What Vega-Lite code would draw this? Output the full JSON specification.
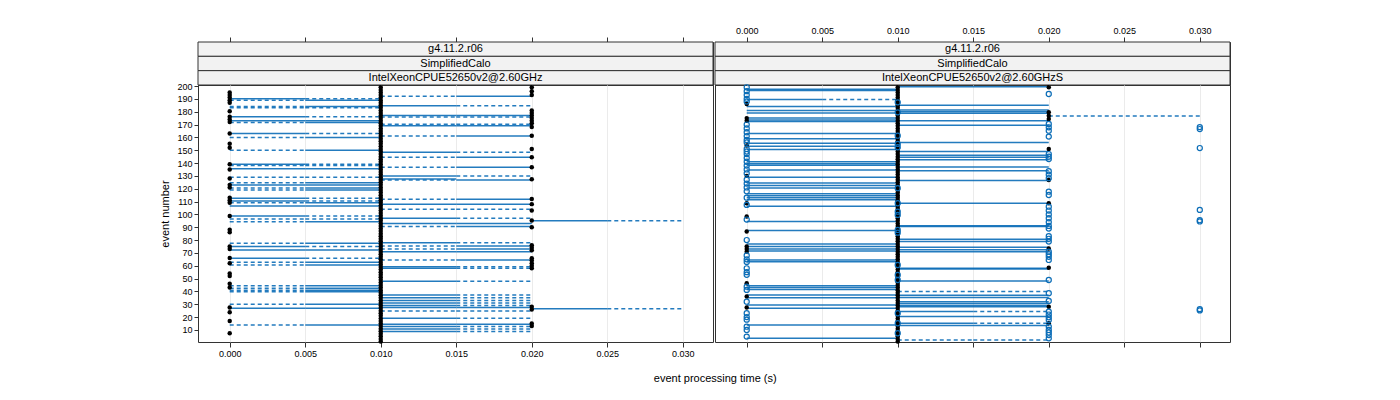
{
"$schema":"https://vega.github.io/schema/vega-lite/v6.json",
"padding":{"left":159,"top":25,"right":5,"bottom":5},
"background":"white",
"title":{"text":"event processing time (s)","orient":"bottom","anchor":"middle","fontSize":11,"fontWeight":"normal","font":"Liberation Sans","color":"#000","dx":20,"offset":14},
"datasets":{
"segs":[
{"p":"L","r":"r1","y":190,"x":0,"x2":0.005},{"p":"L","r":"r2","y":190,"x":0.005,"x2":0.01},
{"p":"L","r":"r2","y":189,"x":0,"x2":0.005},{"p":"L","r":"r1","y":189,"x":0.005,"x2":0.01},
{"p":"L","r":"r2","y":192,"x":0.01,"x2":0.015},{"p":"L","r":"r1","y":192,"x":0.015,"x2":0.02},
{"p":"L","r":"r2","y":184,"x":0,"x2":0.005},{"p":"L","r":"r1","y":184,"x":0.005,"x2":0.01},
{"p":"L","r":"r2","y":183,"x":0,"x2":0.005},{"p":"L","r":"r2","y":183,"x":0.005,"x2":0.01},
{"p":"L","r":"r1","y":184.6,"x":0.01,"x2":0.015},{"p":"L","r":"r2","y":184.6,"x":0.015,"x2":0.02},
{"p":"L","r":"r1","y":176,"x":0,"x2":0.005},{"p":"L","r":"r2","y":176,"x":0.005,"x2":0.01},
{"p":"L","r":"r1","y":173,"x":0,"x2":0.005},{"p":"L","r":"r1","y":173,"x":0.005,"x2":0.01},
{"p":"L","r":"r2","y":171.5,"x":0,"x2":0.005},{"p":"L","r":"r1","y":171.5,"x":0.005,"x2":0.01},
{"p":"L","r":"r1","y":177,"x":0.01,"x2":0.015},{"p":"L","r":"r1","y":177,"x":0.015,"x2":0.02},
{"p":"L","r":"r2","y":175.8,"x":0.01,"x2":0.015},{"p":"L","r":"r2","y":175.8,"x":0.015,"x2":0.02},
{"p":"L","r":"r1","y":169,"x":0.01,"x2":0.015},{"p":"L","r":"r1","y":169,"x":0.015,"x2":0.02},
{"p":"L","r":"r2","y":170.2,"x":0.01,"x2":0.015},{"p":"L","r":"r2","y":170.2,"x":0.015,"x2":0.02},
{"p":"L","r":"r1","y":163,"x":0,"x2":0.005},{"p":"L","r":"r2","y":163,"x":0.005,"x2":0.01},
{"p":"L","r":"r2","y":160,"x":0,"x2":0.005},{"p":"L","r":"r1","y":160,"x":0.005,"x2":0.01},
{"p":"L","r":"r2","y":161,"x":0.01,"x2":0.015},{"p":"L","r":"r1","y":161,"x":0.015,"x2":0.02},
{"p":"L","r":"r2","y":150,"x":0,"x2":0.005},{"p":"L","r":"r1","y":150,"x":0.005,"x2":0.01},
{"p":"L","r":"r1","y":148.5,"x":0.01,"x2":0.015},{"p":"L","r":"r2","y":148.5,"x":0.015,"x2":0.02},
{"p":"L","r":"r2","y":144.5,"x":0.01,"x2":0.015},{"p":"L","r":"r1","y":144.5,"x":0.015,"x2":0.02},
{"p":"L","r":"r1","y":139,"x":0,"x2":0.005},{"p":"L","r":"r2","y":139,"x":0.005,"x2":0.01},
{"p":"L","r":"r2","y":138,"x":0,"x2":0.005},{"p":"L","r":"r2","y":138,"x":0.005,"x2":0.01},
{"p":"L","r":"r1","y":135.5,"x":0,"x2":0.005},{"p":"L","r":"r1","y":135.5,"x":0.005,"x2":0.01},
{"p":"L","r":"r2","y":136.7,"x":0.01,"x2":0.015},{"p":"L","r":"r1","y":136.7,"x":0.015,"x2":0.02},
{"p":"L","r":"r1","y":130,"x":0.01,"x2":0.015},{"p":"L","r":"r2","y":130,"x":0.015,"x2":0.02},
{"p":"L","r":"r1","y":127.5,"x":0.01,"x2":0.015},
{"p":"L","r":"r2","y":126.8,"x":0.01,"x2":0.015},{"p":"L","r":"r1","y":126.8,"x":0.015,"x2":0.02},
{"p":"L","r":"r2","y":128.9,"x":0,"x2":0.005},{"p":"L","r":"r2","y":128.9,"x":0.005,"x2":0.01},
{"p":"L","r":"r2","y":124.7,"x":0,"x2":0.005},{"p":"L","r":"r1","y":124.7,"x":0.005,"x2":0.01},
{"p":"L","r":"r1","y":122.9,"x":0,"x2":0.005},{"p":"L","r":"r1","y":122.9,"x":0.005,"x2":0.01},
{"p":"L","r":"r2","y":120.5,"x":0,"x2":0.005},{"p":"L","r":"r1","y":120.5,"x":0.005,"x2":0.01},
{"p":"L","r":"r2","y":119,"x":0,"x2":0.005},{"p":"L","r":"r1","y":119,"x":0.005,"x2":0.01},
{"p":"L","r":"r2","y":111.8,"x":0.01,"x2":0.015},{"p":"L","r":"r1","y":111.8,"x":0.015,"x2":0.02},
{"p":"L","r":"r1","y":112.5,"x":0,"x2":0.005},{"p":"L","r":"r2","y":112.5,"x":0.005,"x2":0.01},
{"p":"L","r":"r1","y":110.5,"x":0,"x2":0.005},{"p":"L","r":"r2","y":110.5,"x":0.005,"x2":0.01},
{"p":"L","r":"r2","y":109,"x":0,"x2":0.005},{"p":"L","r":"r1","y":109,"x":0.005,"x2":0.01},
{"p":"L","r":"r1","y":108,"x":0.01,"x2":0.015},{"p":"L","r":"r1","y":108,"x":0.015,"x2":0.02},
{"p":"L","r":"r1","y":106.6,"x":0,"x2":0.005},{"p":"L","r":"r1","y":106.6,"x":0.005,"x2":0.01},
{"p":"L","r":"r2","y":104,"x":0.01,"x2":0.015},{"p":"L","r":"r2","y":104,"x":0.015,"x2":0.02},
{"p":"L","r":"r1","y":98.8,"x":0,"x2":0.005},{"p":"L","r":"r2","y":98.8,"x":0.005,"x2":0.01},
{"p":"L","r":"r2","y":96.4,"x":0,"x2":0.005},{"p":"L","r":"r2","y":96.4,"x":0.005,"x2":0.01},
{"p":"L","r":"r2","y":94.3,"x":0,"x2":0.005},{"p":"L","r":"r1","y":94.3,"x":0.005,"x2":0.01},
{"p":"L","r":"r1","y":97,"x":0.01,"x2":0.015},{"p":"L","r":"r2","y":97,"x":0.015,"x2":0.02},
{"p":"L","r":"r1","y":95,"x":0.02,"x2":0.025},{"p":"L","r":"r2","y":95,"x":0.025,"x2":0.03},
{"p":"L","r":"r1","y":93,"x":0.01,"x2":0.015},{"p":"L","r":"r1","y":93,"x":0.015,"x2":0.02},
{"p":"L","r":"r2","y":90.5,"x":0.01,"x2":0.015},{"p":"L","r":"r1","y":90.5,"x":0.015,"x2":0.02},
{"p":"L","r":"r2","y":77.5,"x":0,"x2":0.005},{"p":"L","r":"r1","y":77.5,"x":0.005,"x2":0.01},
{"p":"L","r":"r1","y":75,"x":0,"x2":0.005},{"p":"L","r":"r2","y":75,"x":0.005,"x2":0.01},
{"p":"L","r":"r1","y":72.3,"x":0,"x2":0.005},{"p":"L","r":"r1","y":72.3,"x":0.005,"x2":0.01},
{"p":"L","r":"r1","y":78,"x":0.01,"x2":0.015},{"p":"L","r":"r2","y":78,"x":0.015,"x2":0.02},
{"p":"L","r":"r2","y":75.4,"x":0.01,"x2":0.015},{"p":"L","r":"r1","y":75.4,"x":0.015,"x2":0.02},
{"p":"L","r":"r2","y":73,"x":0.01,"x2":0.015},{"p":"L","r":"r1","y":73,"x":0.015,"x2":0.02},
{"p":"L","r":"r1","y":71,"x":0.01,"x2":0.015},{"p":"L","r":"r1","y":71,"x":0.015,"x2":0.02},
{"p":"L","r":"r1","y":65.8,"x":0,"x2":0.005},{"p":"L","r":"r2","y":65.8,"x":0.005,"x2":0.01},
{"p":"L","r":"r2","y":64.5,"x":0.01,"x2":0.015},{"p":"L","r":"r1","y":64.5,"x":0.015,"x2":0.02},
{"p":"L","r":"r2","y":62.7,"x":0,"x2":0.005},{"p":"L","r":"r1","y":62.7,"x":0.005,"x2":0.01},
{"p":"L","r":"r2","y":60.5,"x":0,"x2":0.005},{"p":"L","r":"r1","y":60.5,"x":0.005,"x2":0.01},
{"p":"L","r":"r1","y":59.3,"x":0.01,"x2":0.015},{"p":"L","r":"r2","y":59.3,"x":0.015,"x2":0.02},
{"p":"L","r":"r1","y":58,"x":0.01,"x2":0.015},{"p":"L","r":"r2","y":58,"x":0.015,"x2":0.02},
{"p":"L","r":"r1","y":48,"x":0.01,"x2":0.015},{"p":"L","r":"r2","y":48,"x":0.015,"x2":0.02},
{"p":"L","r":"r2","y":44.5,"x":0,"x2":0.005},{"p":"L","r":"r1","y":44.5,"x":0.005,"x2":0.01},
{"p":"L","r":"r2","y":42.5,"x":0,"x2":0.005},{"p":"L","r":"r1","y":42.5,"x":0.005,"x2":0.01},
{"p":"L","r":"r2","y":41,"x":0,"x2":0.005},{"p":"L","r":"r1","y":41,"x":0.005,"x2":0.01},
{"p":"L","r":"r2","y":39.8,"x":0,"x2":0.005},{"p":"L","r":"r1","y":39.8,"x":0.005,"x2":0.01},
{"p":"L","r":"r1","y":37.3,"x":0.01,"x2":0.015},{"p":"L","r":"r2","y":37.3,"x":0.015,"x2":0.02},
{"p":"L","r":"r1","y":35,"x":0.01,"x2":0.015},{"p":"L","r":"r2","y":35,"x":0.015,"x2":0.02},
{"p":"L","r":"r1","y":33,"x":0.01,"x2":0.015},{"p":"L","r":"r2","y":33,"x":0.015,"x2":0.02},
{"p":"L","r":"r1","y":31,"x":0.01,"x2":0.015},{"p":"L","r":"r2","y":31,"x":0.015,"x2":0.02},
{"p":"L","r":"r1","y":29,"x":0.01,"x2":0.015},{"p":"L","r":"r2","y":29,"x":0.015,"x2":0.02},
{"p":"L","r":"r2","y":30,"x":0,"x2":0.005},{"p":"L","r":"r1","y":30,"x":0.005,"x2":0.01},
{"p":"L","r":"r1","y":26.9,"x":0,"x2":0.005},{"p":"L","r":"r1","y":26.9,"x":0.005,"x2":0.01},
{"p":"L","r":"r1","y":26.5,"x":0.02,"x2":0.025},{"p":"L","r":"r2","y":26.5,"x":0.025,"x2":0.03},
{"p":"L","r":"r1","y":27.5,"x":0.01,"x2":0.015},{"p":"L","r":"r1","y":27.5,"x":0.015,"x2":0.02},
{"p":"L","r":"r2","y":24.8,"x":0.01,"x2":0.015},{"p":"L","r":"r2","y":24.8,"x":0.015,"x2":0.02},
{"p":"L","r":"r1","y":19.1,"x":0.01,"x2":0.015},{"p":"L","r":"r2","y":19.1,"x":0.015,"x2":0.02},
{"p":"L","r":"r2","y":13.9,"x":0,"x2":0.005},{"p":"L","r":"r1","y":13.9,"x":0.005,"x2":0.01},
{"p":"L","r":"r1","y":14.4,"x":0.01,"x2":0.015},{"p":"L","r":"r1","y":14.4,"x":0.015,"x2":0.02},
{"p":"L","r":"r1","y":12.6,"x":0.01,"x2":0.015},{"p":"L","r":"r2","y":12.6,"x":0.015,"x2":0.02},
{"p":"L","r":"r1","y":10.8,"x":0.01,"x2":0.015},{"p":"L","r":"r2","y":10.8,"x":0.015,"x2":0.02},
{"p":"L","r":"r1","y":8.7,"x":0.01,"x2":0.015},{"p":"L","r":"r2","y":8.7,"x":0.015,"x2":0.02},
{"p":"R","r":"r1","y":199.5,"x":0.01,"x2":0.02},{"p":"R","r":"r1","y":197.5,"x":0,"x2":0.01},{"p":"R","r":"r1","y":196.5,"x":0,"x2":0.01},
{"p":"R","r":"r1","y":189.5,"x":0,"x2":0.005},{"p":"R","r":"r2","y":189.5,"x":0.005,"x2":0.01},
{"p":"R","r":"r1","y":185,"x":0.01,"x2":0.02},
{"p":"R","r":"r1","y":184,"x":0,"x2":0.01},{"p":"R","r":"r1","y":181,"x":0,"x2":0.01},{"p":"R","r":"r1","y":179,"x":0,"x2":0.01},
{"p":"R","r":"r1","y":181.3,"x":0.01,"x2":0.02},{"p":"R","r":"r1","y":180,"x":0.01,"x2":0.02},{"p":"R","r":"r1","y":178.7,"x":0.01,"x2":0.02},
{"p":"R","r":"r2","y":176.7,"x":0.02,"x2":0.03},
{"p":"R","r":"r1","y":175,"x":0,"x2":0.01},{"p":"R","r":"r1","y":173.5,"x":0,"x2":0.01},{"p":"R","r":"r1","y":172.3,"x":0,"x2":0.01},
{"p":"R","r":"r1","y":173,"x":0.01,"x2":0.02},{"p":"R","r":"r1","y":169.5,"x":0.01,"x2":0.02},
{"p":"R","r":"r1","y":163,"x":0,"x2":0.01},{"p":"R","r":"r1","y":159,"x":0,"x2":0.01},{"p":"R","r":"r1","y":155.4,"x":0,"x2":0.01},{"p":"R","r":"r1","y":153,"x":0,"x2":0.01},{"p":"R","r":"r1","y":150.5,"x":0,"x2":0.01},
{"p":"R","r":"r1","y":156,"x":0.01,"x2":0.02},{"p":"R","r":"r1","y":149,"x":0.01,"x2":0.02},{"p":"R","r":"r1","y":146,"x":0.01,"x2":0.02},{"p":"R","r":"r1","y":144.5,"x":0.01,"x2":0.02},{"p":"R","r":"r1","y":142.5,"x":0.01,"x2":0.02},
{"p":"R","r":"r1","y":141,"x":0,"x2":0.01},{"p":"R","r":"r1","y":139.5,"x":0,"x2":0.01},{"p":"R","r":"r1","y":138.2,"x":0,"x2":0.01},
{"p":"R","r":"r1","y":137,"x":0.01,"x2":0.02},{"p":"R","r":"r1","y":134,"x":0.01,"x2":0.02},
{"p":"R","r":"r1","y":134.6,"x":0,"x2":0.01},{"p":"R","r":"r1","y":129,"x":0,"x2":0.01},{"p":"R","r":"r1","y":126.5,"x":0.01,"x2":0.02},
{"p":"R","r":"r1","y":124.5,"x":0,"x2":0.01},{"p":"R","r":"r1","y":122.5,"x":0,"x2":0.01},{"p":"R","r":"r1","y":120.5,"x":0,"x2":0.01},
{"p":"R","r":"r1","y":116,"x":0,"x2":0.01},{"p":"R","r":"r1","y":114.5,"x":0,"x2":0.01},{"p":"R","r":"r1","y":113,"x":0,"x2":0.01},{"p":"R","r":"r1","y":111.5,"x":0,"x2":0.01},
{"p":"R","r":"r1","y":108.7,"x":0.01,"x2":0.02},{"p":"R","r":"r1","y":106.3,"x":0,"x2":0.01},
{"p":"R","r":"r1","y":94.4,"x":0,"x2":0.01},{"p":"R","r":"r1","y":90.5,"x":0.01,"x2":0.02},{"p":"R","r":"r1","y":91.2,"x":0.01,"x2":0.02},
{"p":"R","r":"r1","y":87.4,"x":0,"x2":0.01},
{"p":"R","r":"r1","y":80.6,"x":0.01,"x2":0.02},{"p":"R","r":"r1","y":78.8,"x":0.01,"x2":0.02},
{"p":"R","r":"r1","y":77,"x":0,"x2":0.01},
{"p":"R","r":"r1","y":75,"x":0,"x2":0.01},{"p":"R","r":"r1","y":73,"x":0,"x2":0.01},{"p":"R","r":"r1","y":71.5,"x":0,"x2":0.01},
{"p":"R","r":"r1","y":74.5,"x":0.01,"x2":0.02},{"p":"R","r":"r1","y":72.5,"x":0.01,"x2":0.02},{"p":"R","r":"r1","y":71,"x":0.01,"x2":0.02},
{"p":"R","r":"r1","y":64.5,"x":0,"x2":0.01},{"p":"R","r":"r1","y":63.2,"x":0,"x2":0.01},
{"p":"R","r":"r1","y":58,"x":0.01,"x2":0.02},{"p":"R","r":"r1","y":57.4,"x":0.01,"x2":0.02},
{"p":"R","r":"r1","y":48.2,"x":0.01,"x2":0.02},
{"p":"R","r":"r1","y":44.5,"x":0,"x2":0.01},{"p":"R","r":"r1","y":43,"x":0,"x2":0.01},{"p":"R","r":"r1","y":41.5,"x":0,"x2":0.01},
{"p":"R","r":"r2","y":39.9,"x":0.01,"x2":0.015},{"p":"R","r":"r2","y":39.9,"x":0.015,"x2":0.02},
{"p":"R","r":"r1","y":37.3,"x":0,"x2":0.01},{"p":"R","r":"r1","y":35,"x":0,"x2":0.01},
{"p":"R","r":"r1","y":37,"x":0.01,"x2":0.02},{"p":"R","r":"r1","y":35.2,"x":0.01,"x2":0.02},
{"p":"R","r":"r1","y":32,"x":0.01,"x2":0.02},{"p":"R","r":"r1","y":30.5,"x":0.01,"x2":0.02},{"p":"R","r":"r1","y":29,"x":0.01,"x2":0.02},{"p":"R","r":"r1","y":28,"x":0.01,"x2":0.02},
{"p":"R","r":"r1","y":29.5,"x":0,"x2":0.01},{"p":"R","r":"r1","y":26.9,"x":0,"x2":0.01},
{"p":"R","r":"r1","y":24.3,"x":0.01,"x2":0.015},{"p":"R","r":"r2","y":24.3,"x":0.015,"x2":0.02},
{"p":"R","r":"r1","y":20.4,"x":0.01,"x2":0.02},
{"p":"R","r":"r1","y":15.2,"x":0.01,"x2":0.015},{"p":"R","r":"r2","y":15.2,"x":0.015,"x2":0.02},
{"p":"R","r":"r1","y":13.9,"x":0,"x2":0.01},{"p":"R","r":"r1","y":13.4,"x":0.01,"x2":0.02},
{"p":"R","r":"r1","y":3.5,"x":0,"x2":0.01},
{"p":"R","r":"r2","y":2.2,"x":0.01,"x2":0.015},{"p":"R","r":"r2","y":2.2,"x":0.015,"x2":0.02}
],
"pts":[
{"p":"L","r":"r1","x":0,"y":195},{"p":"L","r":"r1","x":0,"y":193},{"p":"L","r":"r1","x":0,"y":191},{"p":"L","r":"r1","x":0,"y":189},{"p":"L","r":"r1","x":0,"y":187},{"p":"L","r":"r1","x":0,"y":180.3},{"p":"L","r":"r1","x":0,"y":176},{"p":"L","r":"r1","x":0,"y":174},{"p":"L","r":"r1","x":0,"y":172},{"p":"L","r":"r1","x":0,"y":163},{"p":"L","r":"r1","x":0,"y":155},{"p":"L","r":"r1","x":0,"y":152},{"p":"L","r":"r1","x":0,"y":139},{"p":"L","r":"r1","x":0,"y":135},{"p":"L","r":"r1","x":0,"y":128},{"p":"L","r":"r1","x":0,"y":123},{"p":"L","r":"r1","x":0,"y":121},{"p":"L","r":"r1","x":0,"y":113},{"p":"L","r":"r1","x":0,"y":111},{"p":"L","r":"r1","x":0,"y":109},{"p":"L","r":"r1","x":0,"y":98.8},{"p":"L","r":"r1","x":0,"y":88},{"p":"L","r":"r1","x":0,"y":86},{"p":"L","r":"r1","x":0,"y":75},{"p":"L","r":"r1","x":0,"y":73},{"p":"L","r":"r1","x":0,"y":66},{"p":"L","r":"r1","x":0,"y":62},{"p":"L","r":"r1","x":0,"y":54},{"p":"L","r":"r1","x":0,"y":52},{"p":"L","r":"r1","x":0,"y":46},{"p":"L","r":"r1","x":0,"y":43},{"p":"L","r":"r1","x":0,"y":27.4},{"p":"L","r":"r1","x":0,"y":23.8},{"p":"L","r":"r1","x":0,"y":17},{"p":"L","r":"r1","x":0,"y":7.4},
{"p":"L","r":"r1","x":0.02,"y":199},{"p":"L","r":"r1","x":0.02,"y":196},{"p":"L","r":"r1","x":0.02,"y":193},{"p":"L","r":"r1","x":0.02,"y":181},{"p":"L","r":"r1","x":0.02,"y":179},{"p":"L","r":"r1","x":0.02,"y":177},{"p":"L","r":"r1","x":0.02,"y":175},{"p":"L","r":"r1","x":0.02,"y":173},{"p":"L","r":"r1","x":0.02,"y":171},{"p":"L","r":"r1","x":0.02,"y":168},{"p":"L","r":"r1","x":0.02,"y":161.3},{"p":"L","r":"r1","x":0.02,"y":151},{"p":"L","r":"r1","x":0.02,"y":144.5},{"p":"L","r":"r1","x":0.02,"y":136.7},{"p":"L","r":"r1","x":0.02,"y":127.4},{"p":"L","r":"r1","x":0.02,"y":112},{"p":"L","r":"r1","x":0.02,"y":108},{"p":"L","r":"r1","x":0.02,"y":103},{"p":"L","r":"r1","x":0.02,"y":95.2},{"p":"L","r":"r1","x":0.02,"y":90},{"p":"L","r":"r1","x":0.02,"y":76},{"p":"L","r":"r1","x":0.02,"y":74},{"p":"L","r":"r1","x":0.02,"y":72},{"p":"L","r":"r1","x":0.02,"y":65.8},{"p":"L","r":"r1","x":0.02,"y":64},{"p":"L","r":"r1","x":0.02,"y":62},{"p":"L","r":"r1","x":0.02,"y":60},{"p":"L","r":"r1","x":0.02,"y":58},{"p":"L","r":"r1","x":0.02,"y":28},{"p":"L","r":"r1","x":0.02,"y":26},{"p":"L","r":"r1","x":0.02,"y":15},{"p":"L","r":"r1","x":0.02,"y":13},
{"p":"L","r":"r1","x":0.01,"y":1},{"p":"L","r":"r1","x":0.01,"y":3},{"p":"L","r":"r1","x":0.01,"y":5},{"p":"L","r":"r1","x":0.01,"y":7},{"p":"L","r":"r1","x":0.01,"y":9},{"p":"L","r":"r1","x":0.01,"y":11},{"p":"L","r":"r1","x":0.01,"y":13},{"p":"L","r":"r1","x":0.01,"y":15},{"p":"L","r":"r1","x":0.01,"y":17},{"p":"L","r":"r1","x":0.01,"y":19},{"p":"L","r":"r1","x":0.01,"y":21},{"p":"L","r":"r1","x":0.01,"y":23},{"p":"L","r":"r1","x":0.01,"y":25},{"p":"L","r":"r1","x":0.01,"y":27},{"p":"L","r":"r1","x":0.01,"y":29},{"p":"L","r":"r1","x":0.01,"y":31},{"p":"L","r":"r1","x":0.01,"y":33},{"p":"L","r":"r1","x":0.01,"y":35},{"p":"L","r":"r1","x":0.01,"y":37},{"p":"L","r":"r1","x":0.01,"y":39},{"p":"L","r":"r1","x":0.01,"y":41},{"p":"L","r":"r1","x":0.01,"y":43},{"p":"L","r":"r1","x":0.01,"y":45},{"p":"L","r":"r1","x":0.01,"y":47},{"p":"L","r":"r1","x":0.01,"y":49},{"p":"L","r":"r1","x":0.01,"y":51},{"p":"L","r":"r1","x":0.01,"y":53},{"p":"L","r":"r1","x":0.01,"y":55},{"p":"L","r":"r1","x":0.01,"y":57},{"p":"L","r":"r1","x":0.01,"y":59},{"p":"L","r":"r1","x":0.01,"y":61},{"p":"L","r":"r1","x":0.01,"y":63},{"p":"L","r":"r1","x":0.01,"y":65},{"p":"L","r":"r1","x":0.01,"y":67},{"p":"L","r":"r1","x":0.01,"y":69},{"p":"L","r":"r1","x":0.01,"y":71},{"p":"L","r":"r1","x":0.01,"y":73},{"p":"L","r":"r1","x":0.01,"y":75},{"p":"L","r":"r1","x":0.01,"y":77},{"p":"L","r":"r1","x":0.01,"y":79},{"p":"L","r":"r1","x":0.01,"y":81},{"p":"L","r":"r1","x":0.01,"y":83},{"p":"L","r":"r1","x":0.01,"y":85},{"p":"L","r":"r1","x":0.01,"y":87},{"p":"L","r":"r1","x":0.01,"y":89},{"p":"L","r":"r1","x":0.01,"y":91},{"p":"L","r":"r1","x":0.01,"y":93},{"p":"L","r":"r1","x":0.01,"y":95},{"p":"L","r":"r1","x":0.01,"y":97},{"p":"L","r":"r1","x":0.01,"y":99},{"p":"L","r":"r1","x":0.01,"y":101},{"p":"L","r":"r1","x":0.01,"y":103},{"p":"L","r":"r1","x":0.01,"y":105},{"p":"L","r":"r1","x":0.01,"y":107},{"p":"L","r":"r1","x":0.01,"y":109},{"p":"L","r":"r1","x":0.01,"y":111},{"p":"L","r":"r1","x":0.01,"y":113},{"p":"L","r":"r1","x":0.01,"y":115},{"p":"L","r":"r1","x":0.01,"y":117},{"p":"L","r":"r1","x":0.01,"y":119},{"p":"L","r":"r1","x":0.01,"y":121},{"p":"L","r":"r1","x":0.01,"y":123},{"p":"L","r":"r1","x":0.01,"y":125},{"p":"L","r":"r1","x":0.01,"y":127},{"p":"L","r":"r1","x":0.01,"y":129},{"p":"L","r":"r1","x":0.01,"y":131},{"p":"L","r":"r1","x":0.01,"y":133},{"p":"L","r":"r1","x":0.01,"y":135},{"p":"L","r":"r1","x":0.01,"y":137},{"p":"L","r":"r1","x":0.01,"y":139},{"p":"L","r":"r1","x":0.01,"y":141},{"p":"L","r":"r1","x":0.01,"y":143},{"p":"L","r":"r1","x":0.01,"y":145},{"p":"L","r":"r1","x":0.01,"y":147},{"p":"L","r":"r1","x":0.01,"y":149},{"p":"L","r":"r1","x":0.01,"y":151},{"p":"L","r":"r1","x":0.01,"y":153},{"p":"L","r":"r1","x":0.01,"y":155},{"p":"L","r":"r1","x":0.01,"y":157},{"p":"L","r":"r1","x":0.01,"y":159},{"p":"L","r":"r1","x":0.01,"y":161},{"p":"L","r":"r1","x":0.01,"y":163},{"p":"L","r":"r1","x":0.01,"y":165},{"p":"L","r":"r1","x":0.01,"y":167},{"p":"L","r":"r1","x":0.01,"y":169},{"p":"L","r":"r1","x":0.01,"y":171},{"p":"L","r":"r1","x":0.01,"y":173},{"p":"L","r":"r1","x":0.01,"y":175},{"p":"L","r":"r1","x":0.01,"y":177},{"p":"L","r":"r1","x":0.01,"y":179},{"p":"L","r":"r1","x":0.01,"y":181},{"p":"L","r":"r1","x":0.01,"y":183},{"p":"L","r":"r1","x":0.01,"y":185},{"p":"L","r":"r1","x":0.01,"y":187},{"p":"L","r":"r1","x":0.01,"y":189},{"p":"L","r":"r1","x":0.01,"y":191},{"p":"L","r":"r1","x":0.01,"y":193},{"p":"L","r":"r1","x":0.01,"y":195},{"p":"L","r":"r1","x":0.01,"y":197},{"p":"L","r":"r1","x":0.01,"y":199},
{"p":"R","r":"r1","x":0.01,"y":1},{"p":"R","r":"r1","x":0.01,"y":3},{"p":"R","r":"r1","x":0.01,"y":5},{"p":"R","r":"r1","x":0.01,"y":7},{"p":"R","r":"r1","x":0.01,"y":9},{"p":"R","r":"r1","x":0.01,"y":11},{"p":"R","r":"r1","x":0.01,"y":13},{"p":"R","r":"r1","x":0.01,"y":15},{"p":"R","r":"r1","x":0.01,"y":17},{"p":"R","r":"r1","x":0.01,"y":19},{"p":"R","r":"r1","x":0.01,"y":21},{"p":"R","r":"r1","x":0.01,"y":23},{"p":"R","r":"r1","x":0.01,"y":25},{"p":"R","r":"r1","x":0.01,"y":27},{"p":"R","r":"r1","x":0.01,"y":29},{"p":"R","r":"r1","x":0.01,"y":31},{"p":"R","r":"r1","x":0.01,"y":33},{"p":"R","r":"r1","x":0.01,"y":35},{"p":"R","r":"r1","x":0.01,"y":37},{"p":"R","r":"r1","x":0.01,"y":39},{"p":"R","r":"r1","x":0.01,"y":41},{"p":"R","r":"r1","x":0.01,"y":43},{"p":"R","r":"r1","x":0.01,"y":45},{"p":"R","r":"r1","x":0.01,"y":47},{"p":"R","r":"r1","x":0.01,"y":49},{"p":"R","r":"r1","x":0.01,"y":51},{"p":"R","r":"r1","x":0.01,"y":53},{"p":"R","r":"r1","x":0.01,"y":55},{"p":"R","r":"r1","x":0.01,"y":57},{"p":"R","r":"r1","x":0.01,"y":59},{"p":"R","r":"r1","x":0.01,"y":61},{"p":"R","r":"r1","x":0.01,"y":63},{"p":"R","r":"r1","x":0.01,"y":65},{"p":"R","r":"r1","x":0.01,"y":67},{"p":"R","r":"r1","x":0.01,"y":69},{"p":"R","r":"r1","x":0.01,"y":71},{"p":"R","r":"r1","x":0.01,"y":73},{"p":"R","r":"r1","x":0.01,"y":75},{"p":"R","r":"r1","x":0.01,"y":77},{"p":"R","r":"r1","x":0.01,"y":79},{"p":"R","r":"r1","x":0.01,"y":81},{"p":"R","r":"r1","x":0.01,"y":83},{"p":"R","r":"r1","x":0.01,"y":85},{"p":"R","r":"r1","x":0.01,"y":87},{"p":"R","r":"r1","x":0.01,"y":89},{"p":"R","r":"r1","x":0.01,"y":91},{"p":"R","r":"r1","x":0.01,"y":93},{"p":"R","r":"r1","x":0.01,"y":95},{"p":"R","r":"r1","x":0.01,"y":97},{"p":"R","r":"r1","x":0.01,"y":99},{"p":"R","r":"r1","x":0.01,"y":101},{"p":"R","r":"r1","x":0.01,"y":103},{"p":"R","r":"r1","x":0.01,"y":105},{"p":"R","r":"r1","x":0.01,"y":107},{"p":"R","r":"r1","x":0.01,"y":109},{"p":"R","r":"r1","x":0.01,"y":111},{"p":"R","r":"r1","x":0.01,"y":113},{"p":"R","r":"r1","x":0.01,"y":115},{"p":"R","r":"r1","x":0.01,"y":117},{"p":"R","r":"r1","x":0.01,"y":119},{"p":"R","r":"r1","x":0.01,"y":121},{"p":"R","r":"r1","x":0.01,"y":123},{"p":"R","r":"r1","x":0.01,"y":125},{"p":"R","r":"r1","x":0.01,"y":127},{"p":"R","r":"r1","x":0.01,"y":129},{"p":"R","r":"r1","x":0.01,"y":131},{"p":"R","r":"r1","x":0.01,"y":133},{"p":"R","r":"r1","x":0.01,"y":135},{"p":"R","r":"r1","x":0.01,"y":137},{"p":"R","r":"r1","x":0.01,"y":139},{"p":"R","r":"r1","x":0.01,"y":141},{"p":"R","r":"r1","x":0.01,"y":143},{"p":"R","r":"r1","x":0.01,"y":145},{"p":"R","r":"r1","x":0.01,"y":147},{"p":"R","r":"r1","x":0.01,"y":149},{"p":"R","r":"r1","x":0.01,"y":151},{"p":"R","r":"r1","x":0.01,"y":153},{"p":"R","r":"r1","x":0.01,"y":155},{"p":"R","r":"r1","x":0.01,"y":157},{"p":"R","r":"r1","x":0.01,"y":159},{"p":"R","r":"r1","x":0.01,"y":161},{"p":"R","r":"r1","x":0.01,"y":163},{"p":"R","r":"r1","x":0.01,"y":165},{"p":"R","r":"r1","x":0.01,"y":167},{"p":"R","r":"r1","x":0.01,"y":169},{"p":"R","r":"r1","x":0.01,"y":171},{"p":"R","r":"r1","x":0.01,"y":173},{"p":"R","r":"r1","x":0.01,"y":175},{"p":"R","r":"r1","x":0.01,"y":177},{"p":"R","r":"r1","x":0.01,"y":179},{"p":"R","r":"r1","x":0.01,"y":181},{"p":"R","r":"r1","x":0.01,"y":183},{"p":"R","r":"r1","x":0.01,"y":185},{"p":"R","r":"r1","x":0.01,"y":187},{"p":"R","r":"r1","x":0.01,"y":189},{"p":"R","r":"r1","x":0.01,"y":191},{"p":"R","r":"r1","x":0.01,"y":193},{"p":"R","r":"r1","x":0.01,"y":195},{"p":"R","r":"r1","x":0.01,"y":197},{"p":"R","r":"r1","x":0.01,"y":199},
{"p":"R","r":"r1","x":0,"y":186},{"p":"R","r":"r1","x":0,"y":175},{"p":"R","r":"r1","x":0,"y":173},{"p":"R","r":"r1","x":0,"y":153.6},{"p":"R","r":"r1","x":0,"y":130},{"p":"R","r":"r1","x":0,"y":108.7},{"p":"R","r":"r1","x":0,"y":98.3},{"p":"R","r":"r1","x":0,"y":86.6},{"p":"R","r":"r1","x":0,"y":75},{"p":"R","r":"r1","x":0,"y":73},{"p":"R","r":"r1","x":0,"y":71},{"p":"R","r":"r1","x":0,"y":46.4},{"p":"R","r":"r1","x":0,"y":36},{"p":"R","r":"r1","x":0,"y":27.4},
{"p":"R","r":"r1","x":0.02,"y":199},{"p":"R","r":"r1","x":0.02,"y":179.5},{"p":"R","r":"r1","x":0.02,"y":176.8},{"p":"R","r":"r1","x":0.02,"y":174.3},{"p":"R","r":"r1","x":0.02,"y":151},{"p":"R","r":"r1","x":0.02,"y":126.8},{"p":"R","r":"r1","x":0.02,"y":108.7},{"p":"R","r":"r1","x":0.02,"y":73.5},{"p":"R","r":"r1","x":0.02,"y":58.5},{"p":"R","r":"r1","x":0.02,"y":28.1},{"p":"R","r":"r1","x":0.02,"y":15.2},
{"p":"R","r":"r2","x":0,"y":199},{"p":"R","r":"r2","x":0,"y":196},{"p":"R","r":"r2","x":0,"y":193},{"p":"R","r":"r2","x":0,"y":190},{"p":"R","r":"r2","x":0,"y":188},{"p":"R","r":"r2","x":0,"y":170},{"p":"R","r":"r2","x":0,"y":167},{"p":"R","r":"r2","x":0,"y":164},{"p":"R","r":"r2","x":0,"y":161},{"p":"R","r":"r2","x":0,"y":158},{"p":"R","r":"r2","x":0,"y":156},{"p":"R","r":"r2","x":0,"y":151},{"p":"R","r":"r2","x":0,"y":149},{"p":"R","r":"r2","x":0,"y":147},{"p":"R","r":"r2","x":0,"y":144},{"p":"R","r":"r2","x":0,"y":141},{"p":"R","r":"r2","x":0,"y":138},{"p":"R","r":"r2","x":0,"y":135},{"p":"R","r":"r2","x":0,"y":132},{"p":"R","r":"r2","x":0,"y":127},{"p":"R","r":"r2","x":0,"y":124},{"p":"R","r":"r2","x":0,"y":121},{"p":"R","r":"r2","x":0,"y":118},{"p":"R","r":"r2","x":0,"y":113},{"p":"R","r":"r2","x":0,"y":107.4},{"p":"R","r":"r2","x":0,"y":96},{"p":"R","r":"r2","x":0,"y":80},{"p":"R","r":"r2","x":0,"y":68},{"p":"R","r":"r2","x":0,"y":65},{"p":"R","r":"r2","x":0,"y":63},{"p":"R","r":"r2","x":0,"y":58},{"p":"R","r":"r2","x":0,"y":55},{"p":"R","r":"r2","x":0,"y":53},{"p":"R","r":"r2","x":0,"y":43.7},{"p":"R","r":"r2","x":0,"y":41.2},{"p":"R","r":"r2","x":0,"y":32},{"p":"R","r":"r2","x":0,"y":23},{"p":"R","r":"r2","x":0,"y":20},{"p":"R","r":"r2","x":0,"y":18},{"p":"R","r":"r2","x":0,"y":12.5},{"p":"R","r":"r2","x":0,"y":10},{"p":"R","r":"r2","x":0,"y":4.8},
{"p":"R","r":"r2","x":0.01,"y":187.3},{"p":"R","r":"r2","x":0.01,"y":179.5},{"p":"R","r":"r2","x":0.01,"y":161.3},{"p":"R","r":"r2","x":0.01,"y":154.9},{"p":"R","r":"r2","x":0.01,"y":152.3},{"p":"R","r":"r2","x":0.01,"y":120.4},{"p":"R","r":"r2","x":0.01,"y":108.7},{"p":"R","r":"r2","x":0.01,"y":102.1},{"p":"R","r":"r2","x":0.01,"y":99.6},{"p":"R","r":"r2","x":0.01,"y":87.9},{"p":"R","r":"r2","x":0.01,"y":85.8},{"p":"R","r":"r2","x":0.01,"y":60.6},{"p":"R","r":"r2","x":0.01,"y":52.8},{"p":"R","r":"r2","x":0.01,"y":48.9},{"p":"R","r":"r2","x":0.01,"y":23},{"p":"R","r":"r2","x":0.01,"y":15.2},{"p":"R","r":"r2","x":0.01,"y":7.4},
{"p":"R","r":"r2","x":0.02,"y":193.8},{"p":"R","r":"r2","x":0.02,"y":170.4},{"p":"R","r":"r2","x":0.02,"y":167.8},{"p":"R","r":"r2","x":0.02,"y":165.2},{"p":"R","r":"r2","x":0.02,"y":160.6},{"p":"R","r":"r2","x":0.02,"y":147},{"p":"R","r":"r2","x":0.02,"y":145},{"p":"R","r":"r2","x":0.02,"y":143.1},{"p":"R","r":"r2","x":0.02,"y":133.6},{"p":"R","r":"r2","x":0.02,"y":131},{"p":"R","r":"r2","x":0.02,"y":128.2},{"p":"R","r":"r2","x":0.02,"y":117.7},{"p":"R","r":"r2","x":0.02,"y":115.1},{"p":"R","r":"r2","x":0.02,"y":106},{"p":"R","r":"r2","x":0.02,"y":103},{"p":"R","r":"r2","x":0.02,"y":100},{"p":"R","r":"r2","x":0.02,"y":97},{"p":"R","r":"r2","x":0.02,"y":94},{"p":"R","r":"r2","x":0.02,"y":91},{"p":"R","r":"r2","x":0.02,"y":89},{"p":"R","r":"r2","x":0.02,"y":83},{"p":"R","r":"r2","x":0.02,"y":81},{"p":"R","r":"r2","x":0.02,"y":78.8},{"p":"R","r":"r2","x":0.02,"y":71},{"p":"R","r":"r2","x":0.02,"y":69},{"p":"R","r":"r2","x":0.02,"y":67},{"p":"R","r":"r2","x":0.02,"y":64.5},{"p":"R","r":"r2","x":0.02,"y":48.9},{"p":"R","r":"r2","x":0.02,"y":38.6},{"p":"R","r":"r2","x":0.02,"y":32.6},{"p":"R","r":"r2","x":0.02,"y":24.3},{"p":"R","r":"r2","x":0.02,"y":22},{"p":"R","r":"r2","x":0.02,"y":19.8},{"p":"R","r":"r2","x":0.02,"y":17.8},{"p":"R","r":"r2","x":0.02,"y":12.6},{"p":"R","r":"r2","x":0.02,"y":10},{"p":"R","r":"r2","x":0.02,"y":8},{"p":"R","r":"r2","x":0.02,"y":6},{"p":"R","r":"r2","x":0.02,"y":3.5},
{"p":"R","r":"r2","x":0.03,"y":168},{"p":"R","r":"r2","x":0.03,"y":166.5},{"p":"R","r":"r2","x":0.03,"y":151.7},{"p":"R","r":"r2","x":0.03,"y":103.5},{"p":"R","r":"r2","x":0.03,"y":95.5},{"p":"R","r":"r2","x":0.03,"y":94.5},{"p":"R","r":"r2","x":0.03,"y":26.2},{"p":"R","r":"r2","x":0.03,"y":25.2}
],
"stripL":[{"lvl":1,"lab":"g4.11.2.r06"},{"lvl":2,"lab":"SimplifiedCalo"},{"lvl":3,"lab":"IntelXeonCPUE52650v2@2.60GHz"}],
"stripR":[{"lvl":1,"lab":"g4.11.2.r06"},{"lvl":2,"lab":"SimplifiedCalo"},{"lvl":3,"lab":"IntelXeonCPUE52650v2@2.60GHzS"}]
},
"spacing":0,
"hconcat":[
{"spacing":0,"bounds":"flush","vconcat":[
 {"width":515,"height":43,"data":{"name":"stripL"},"layer":[
  {"mark":{"type":"rect","fill":"#f2f2f2","stroke":"#333","strokeWidth":1},
   "encoding":{"y":{"field":"lvl","type":"ordinal","scale":{"paddingInner":0,"paddingOuter":0},"axis":null},
    "x":{"datum":-0.0021,"type":"quantitative","scale":{"domain":[-0.0021,0.032],"nice":false,"zero":false},"axis":{"orient":"top","values":[0,0.005,0.01,0.015,0.02,0.025,0.03],"labels":false,"grid":false,"domain":false,"tickSize":5,"title":null}},
    "x2":{"datum":0.032}}},
  {"mark":{"type":"text","fontSize":11,"font":"Liberation Sans","color":"#000"},
   "encoding":{"y":{"field":"lvl","type":"ordinal"},"x":{"datum":0.01495,"type":"quantitative"},"text":{"field":"lab"}}}
 ]},
 {"width":515,"height":257,"layer":[
  {"data":{"name":"segs"},"transform":[{"filter":"datum.p=='L' && datum.r=='r1'"}],
   "mark":{"type":"rule","color":"#0b6db7","strokeWidth":1.5,"opacity":0.9},
   "encoding":{"x":{"field":"x","type":"quantitative","scale":{"domain":[-0.0021,0.032],"nice":false,"zero":false},"axis":{"orient":"bottom","values":[0,0.005,0.01,0.015,0.02,0.025,0.03],"format":".3f","grid":true,"gridColor":"#ebebeb","domain":false,"tickSize":5,"title":null,"labelFontSize":9}},
    "x2":{"field":"x2"},
    "y":{"field":"y","type":"quantitative","scale":{"domain":[0.6,200.8],"nice":false,"zero":false},"axis":{"tickCount":20,"labelOverlap":false,"labelSeparation":0,"grid":false,"domain":false,"tickSize":4,"labelFontSize":9,"labelPadding":2,"title":"event number","titleFontSize":11,"titleFontWeight":"normal","titlePadding":6}}}},
  {"data":{"name":"segs"},"transform":[{"filter":"datum.p=='L' && datum.r=='r2'"}],
   "mark":{"type":"rule","color":"#0b6db7","strokeWidth":1.5,"opacity":0.9,"strokeDash":[4,3]},
   "encoding":{"x":{"field":"x","type":"quantitative"},"x2":{"field":"x2"},"y":{"field":"y","type":"quantitative"}}},
  {"data":{"name":"pts"},"transform":[{"filter":"datum.p=='L' && datum.r=='r1'"}],
   "mark":{"type":"circle","color":"#000","size":20,"opacity":1},
   "encoding":{"x":{"field":"x","type":"quantitative"},"y":{"field":"y","type":"quantitative"}}}
 ]}
]},
{"spacing":0,"bounds":"flush","vconcat":[
 {"width":515,"height":43,"data":{"name":"stripR"},"layer":[
  {"mark":{"type":"rect","fill":"#f2f2f2","stroke":"#333","strokeWidth":1},
   "encoding":{"y":{"field":"lvl","type":"ordinal","scale":{"paddingInner":0,"paddingOuter":0},"axis":null},
    "x":{"datum":-0.0021,"type":"quantitative","scale":{"domain":[-0.0021,0.032],"nice":false,"zero":false},"axis":{"orient":"top","values":[0,0.005,0.01,0.015,0.02,0.025,0.03],"format":".3f","labelFontSize":9,"grid":false,"domain":false,"tickSize":5,"title":null}},
    "x2":{"datum":0.032}}},
  {"mark":{"type":"text","fontSize":11,"font":"Liberation Sans","color":"#000"},
   "encoding":{"y":{"field":"lvl","type":"ordinal"},"x":{"datum":0.01495,"type":"quantitative"},"text":{"field":"lab"}}}
 ]},
 {"width":515,"height":257,"layer":[
  {"data":{"name":"segs"},"transform":[{"filter":"datum.p=='R' && datum.r=='r1'"}],
   "mark":{"type":"rule","color":"#0b6db7","strokeWidth":1.5,"opacity":0.9},
   "encoding":{"x":{"field":"x","type":"quantitative","scale":{"domain":[-0.0021,0.032],"nice":false,"zero":false},"axis":{"orient":"bottom","values":[0,0.005,0.01,0.015,0.02,0.025,0.03],"labels":false,"grid":true,"gridColor":"#ebebeb","domain":false,"tickSize":5,"title":null}},
    "x2":{"field":"x2"},
    "y":{"field":"y","type":"quantitative","scale":{"domain":[0.6,200.8],"nice":false,"zero":false},"axis":null}}},
  {"data":{"name":"segs"},"transform":[{"filter":"datum.p=='R' && datum.r=='r2'"}],
   "mark":{"type":"rule","color":"#0b6db7","strokeWidth":1.5,"opacity":0.9,"strokeDash":[4,3]},
   "encoding":{"x":{"field":"x","type":"quantitative"},"x2":{"field":"x2"},"y":{"field":"y","type":"quantitative"}}},
  {"data":{"name":"pts"},"transform":[{"filter":"datum.p=='R' && datum.r=='r1'"}],
   "mark":{"type":"circle","color":"#000","size":20,"opacity":1},
   "encoding":{"x":{"field":"x","type":"quantitative"},"y":{"field":"y","type":"quantitative"}}},
  {"data":{"name":"pts"},"transform":[{"filter":"datum.p=='R' && datum.r=='r2'"}],
   "mark":{"type":"point","shape":"circle","filled":false,"color":"#0b6db7","strokeWidth":1.2,"size":26,"opacity":1},
   "encoding":{"x":{"field":"x","type":"quantitative"},"y":{"field":"y","type":"quantitative"}}}
 ]}
]}
],
"config":{"font":"Liberation Sans","view":{"stroke":"#333","strokeWidth":1},"axis":{"labelFont":"Liberation Sans","titleFont":"Liberation Sans","labelColor":"#000","titleColor":"#000","tickColor":"#333","labelFontSize":9},"axisY":{"labelOverlap":false}}
}
